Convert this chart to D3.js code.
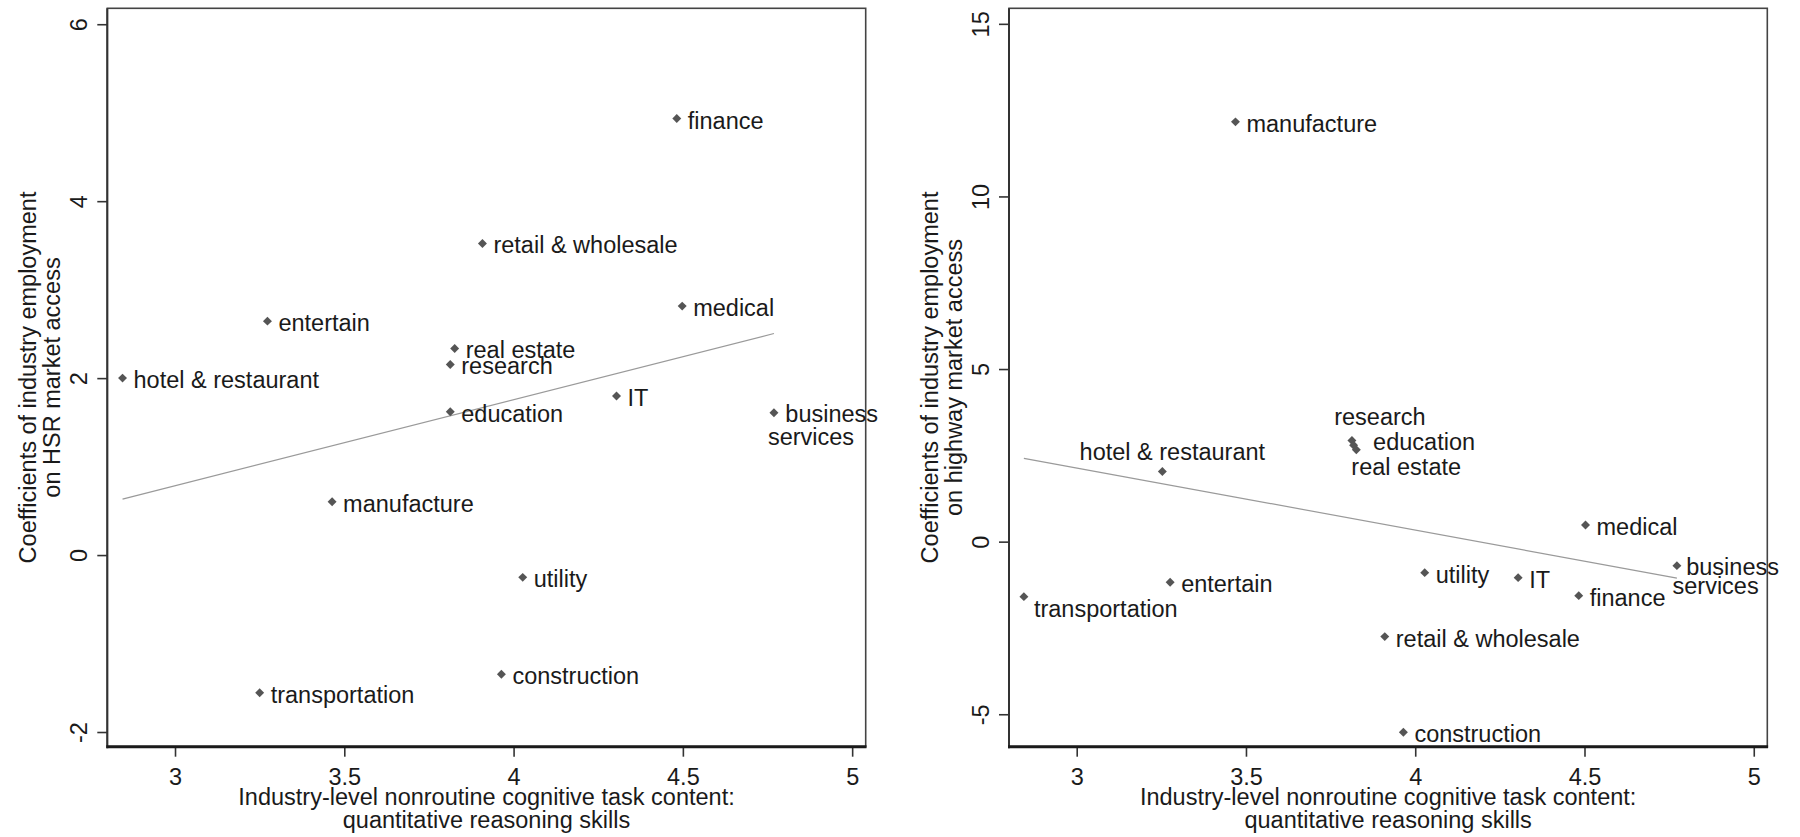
<!DOCTYPE html>
<html>
<head>
<meta charset="utf-8">
<script src="https://cdn.jsdelivr.net/npm/d3@7"></script>
<style>
  html, body { margin: 0; padding: 0; background: #fff; }
  svg { display: block; }
  text { font-family: "Liberation Sans", Arial, sans-serif; fill: #1a1a1a; }
</style>
</head>
<body>
<svg id="chart" width="1800" height="837"></svg>
<script>
// ---------------- DATA ----------------
const hsrIndustries = ["hotel & restaurant", "entertain", "finance", "retail & wholesale", "medical",
  "real estate", "research", "IT", "education", "business services", "utility", "construction",
  "manufacture", "transportation"];
const hsrX = [2.845, 3.273, 4.482, 3.908, 4.498, 3.826, 3.813, 4.304, 3.813, 4.769, 4.027, 3.964, 3.464, 3.250];
const hsrY = [2.00, 2.644, 4.934, 3.522, 2.814, 2.335, 2.155, 1.797, 1.620, 1.608, -0.252, -1.348, 0.602, -1.556];

const hwyIndustries = ["manufacture", "hotel & restaurant", "transportation", "entertain", "research",
  "education", "real estate", "medical", "business services", "utility", "IT", "finance",
  "retail & wholesale", "construction"];
const hwyX = [3.469, 3.253, 2.844, 3.276, 3.813, 3.818, 3.826, 4.503, 4.773, 4.028, 4.304, 4.483, 3.910, 3.965];
const hwyY = [12.16, 2.03, -1.593, -1.176, 2.93, 2.79, 2.66, 0.483, -0.695, -0.898, -1.043, -1.564, -2.751, -5.52];

const xTicks = [3, 3.5, 4, 4.5, 5];
const hsrYTicks = [-2, 0, 2, 4, 6];
const hwyYTicks = [-5, 0, 5, 10, 15];

const xTitle = ["Industry-level nonroutine cognitive task content:", "quantitative reasoning skills"];
const hsrYTitle = ["Coefficients of industry employment", "on HSR market access"];
const hwyYTitle = ["Coefficients of industry employment", "on highway market access"];

// ---------------- LAYOUT / STYLE ----------------
const FONT = 23.5;
const frameTop = 8.3, frameBottom = 746.7;
const xDomain = [2.80, 5.04];
const tickFmt = d => String(d); // plain hyphen-minus, as in the reference

// label placement (anchor, dx from marker, baseline dy from marker); default: right of marker
const defaultLabel = { anchor: "start", dx: 11, dy: 10 };
const hsrLabelStyle = {
  "business services": { wrap: [{ anchor: "start", dx: 11.4, dy: 9 }, { anchor: "start", dx: -6, dy: 32.3 }] }
};
const hwyLabelStyle = {
  "hotel & restaurant": { anchor: "middle", dx: 10, dy: -11.5 },
  "transportation": { anchor: "start", dx: 10, dy: 20.6 },
  "research": { anchor: "middle", dx: 28, dy: -15.5 },
  "education": { anchor: "start", dx: 19.5, dy: 5 },
  "real estate": { anchor: "start", dx: -5, dy: 25 },
  "business services": { wrap: [{ anchor: "start", dx: 9.3, dy: 9.3 }, { anchor: "start", dx: -4.4, dy: 28.6 }] }
};

const panels = [
  { names: hsrIndustries, xs: hsrX, ys: hsrY, yTicks: hsrYTicks, yDomain: [-2.166, 6.18],
    left: 107.3, right: 865.7, yTitle: hsrYTitle, labelStyle: hsrLabelStyle },
  { names: hwyIndustries, xs: hwyX, ys: hwyY, yTicks: hwyYTicks, yDomain: [-5.94, 15.45],
    left: 1009, right: 1767.3, yTitle: hwyYTitle, labelStyle: hwyLabelStyle }
];

const svg = d3.select("#chart");

panels.forEach(p => {
  const x = d3.scaleLinear().domain(xDomain).range([p.left, p.right]);
  const y = d3.scaleLinear().domain(p.yDomain).range([frameBottom, frameTop]);
  const g = svg.append("g");

  // frame
  g.append("rect")
    .attr("x", p.left).attr("y", frameTop)
    .attr("width", p.right - p.left).attr("height", frameBottom - frameTop)
    .attr("fill", "none").attr("stroke", "#444").attr("stroke-width", 1.6);

  // fit line (OLS on the plotted points)
  const pts = p.xs.map((v, i) => [v, p.ys[i]]);
  const mx = d3.mean(pts, d => d[0]), my = d3.mean(pts, d => d[1]);
  const slope = d3.sum(pts, d => (d[0] - mx) * (d[1] - my)) / d3.sum(pts, d => (d[0] - mx) ** 2);
  const ext = d3.extent(p.xs);
  const fit = ext.map(v => [v, my + slope * (v - mx)]);
  g.append("path")
    .attr("d", d3.line().x(d => x(d[0])).y(d => y(d[1]))(fit))
    .attr("fill", "none").attr("stroke", "#9a9a9a").attr("stroke-width", 1.2);

  // y axis
  const yAx = g.append("g").attr("transform", `translate(${p.left},0)`)
    .call(d3.axisLeft(y).tickValues(p.yTicks).tickSize(10).tickFormat(tickFmt));
  yAx.select(".domain").remove();
  yAx.selectAll(".tick line").attr("stroke", "#333").attr("stroke-width", 1.6);
  yAx.selectAll(".tick text")
    .attr("x", null).attr("dy", null)
    .attr("transform", "translate(-20.5,0) rotate(-90)")
    .attr("text-anchor", "middle")
    .style("font-size", FONT + "px").attr("fill", "#1a1a1a")
    .style("font-family", '"Liberation Sans", Arial, sans-serif');

  // x axis
  const xAx = g.append("g").attr("transform", `translate(0,${frameBottom})`)
    .call(d3.axisBottom(x).tickValues(xTicks).tickSize(10).tickFormat(tickFmt));
  xAx.select(".domain").remove();
  xAx.selectAll(".tick line").attr("stroke", "#333").attr("stroke-width", 1.6);
  xAx.selectAll(".tick text")
    .attr("y", 38.3).attr("dy", 0)
    .style("font-size", FONT + "px").attr("fill", "#1a1a1a")
    .style("font-family", '"Liberation Sans", Arial, sans-serif');

  // axis lines (heavier left and bottom)
  g.append("line").attr("x1", p.left).attr("x2", p.left).attr("y1", frameTop).attr("y2", frameBottom + 1.5)
    .attr("stroke", "#333").attr("stroke-width", 2);
  g.append("line").attr("x1", p.left - 1).attr("x2", p.right + 0.8).attr("y1", frameBottom).attr("y2", frameBottom)
    .attr("stroke", "#1a1a1a").attr("stroke-width", 3);

  // markers
  const sym = d3.symbol().type(d3.symbolSquare).size(40);
  g.selectAll(".mk").data(pts).join("path")
    .attr("class", "mk")
    .attr("d", sym)
    .attr("transform", d => `translate(${x(d[0])},${y(d[1])}) rotate(45)`)
    .attr("fill", "#555");

  // labels
  p.names.forEach((name, i) => {
    const cx = x(p.xs[i]), cy = y(p.ys[i]);
    const st = p.labelStyle[name] || defaultLabel;
    if (st.wrap) {
      const words = name.split(" ");
      st.wrap.forEach((w, k) => {
        g.append("text").attr("x", cx + w.dx).attr("y", cy + w.dy)
          .attr("text-anchor", w.anchor).style("font-size", FONT + "px").text(words[k]);
      });
    } else {
      g.append("text").attr("x", cx + st.dx).attr("y", cy + st.dy)
        .attr("text-anchor", st.anchor).style("font-size", FONT + "px").text(name);
    }
  });

  // x title
  const xc = (p.left + p.right) / 2;
  xTitle.forEach((t, k) => {
    g.append("text").attr("x", xc).attr("y", 805 + k * 23.3)
      .attr("text-anchor", "middle").style("font-size", FONT + "px").text(t);
  });

  // y title
  const yc = (frameTop + frameBottom) / 2;
  p.yTitle.forEach((t, k) => {
    const bx = p.left - 71.5 + k * 24;
    g.append("text").attr("transform", `translate(${bx},${yc}) rotate(-90)`)
      .attr("text-anchor", "middle").style("font-size", FONT + "px").text(t);
  });
});
</script>
</body>
</html>
